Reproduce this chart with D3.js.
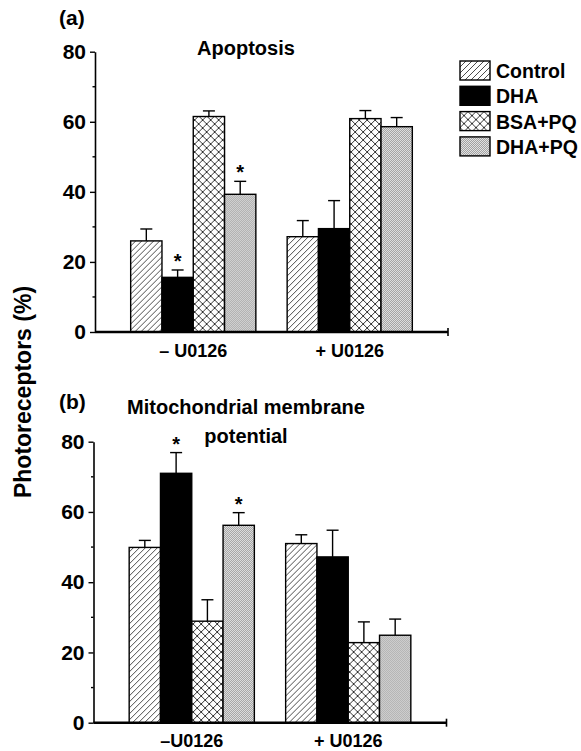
<!DOCTYPE html>
<meta charset="utf-8">
<style>
body { margin: 0; background: #fff; }
text { font-family: "Liberation Sans", Arial, sans-serif; font-weight: bold; fill: #000; }
.bar { stroke: #000; stroke-width: 1.4px; }
.err { stroke: #000; stroke-width: 1.4px; fill: none; }
</style>
<svg width="581" height="751"></svg>
<script src="https://d3js.org/d3.v7.min.js"></script>
<script>

const groups = ["\u2013 U0126", "+ U0126"];
const groupsB = ["\u2013U0126", "+ U0126"];
const series = ["Control", "DHA", "BSA+PQ", "DHA+PQ"];
const yTicks = [0, 20, 40, 60, 80];
const yMinor = [10, 30, 50, 70];

// panel (a) apoptosis, rows = groups, cols = series
const apoptosisMean = [[26.0, 15.6, 61.5, 39.3], [27.2, 29.5, 60.9, 58.6]];
const apoptosisErr  = [[3.4, 2.1, 1.6, 3.7], [4.6, 8.0, 2.3, 2.6]];
const apoptosisStar = [[false, true, false, true], [false, false, false, false]];

// panel (b) mitochondrial membrane potential
const mmpMean = [[49.9, 71.0, 28.9, 56.2], [51.0, 47.2, 22.8, 24.9]];
const mmpErr  = [[2.0, 5.9, 6.1, 3.6], [2.5, 7.6, 5.9, 4.6]];
const mmpStar = [[false, true, false, true], [false, false, false, false]];

const svg = d3.select("svg");
const defs = svg.append("defs");

// fills
const hatch = defs.append("pattern").attr("id", "p-control")
    .attr("patternUnits", "userSpaceOnUse").attr("width", 6).attr("height", 6);
hatch.append("rect").attr("width", 6).attr("height", 6).attr("fill", "#fff");
hatch.append("path").attr("d", "M0,6 L6,0 M-1,1 L1,-1 M5,7 L7,5")
    .attr("stroke", "#000").attr("stroke-width", 0.7);

const cross = defs.append("pattern").attr("id", "p-bsa")
    .attr("patternUnits", "userSpaceOnUse").attr("width", 8).attr("height", 8);
cross.append("rect").attr("width", 8).attr("height", 8).attr("fill", "#fff");
cross.append("path").attr("d", "M0,0 L8,8 M0,8 L8,0")
    .attr("stroke", "#000").attr("stroke-width", 0.8);

const dots = defs.append("pattern").attr("id", "p-dhapq")
    .attr("patternUnits", "userSpaceOnUse").attr("width", 2).attr("height", 2);
dots.append("rect").attr("width", 2).attr("height", 2).attr("fill", "#eaeaea");
dots.append("rect").attr("width", 1).attr("height", 1).attr("fill", "#999");
dots.append("rect").attr("x", 1).attr("y", 1).attr("width", 1).attr("height", 1).attr("fill", "#999");

const fills = {"Control": "url(#p-control)", "DHA": "#000", "BSA+PQ": "url(#p-bsa)", "DHA+PQ": "url(#p-dhapq)"};

function panel(opts) {
  const {x0, x1, yTop, yBot, means, errs, stars, labels} = opts;

  const x = d3.scaleBand().domain(labels).range([x0, x1])
      .paddingInner(0.2).paddingOuter(0.228);
  const xi = d3.scaleBand().domain(series).range([0, x.bandwidth()]);
  const y = d3.scaleLinear().domain([0, 80]).range([yBot, yTop]);

  const g = svg.append("g");

  labels.forEach((lab, gi) => {
    const gg = g.append("g").attr("transform", "translate(" + x(lab) + ",0)");
    series.forEach((s, si) => {
      const v = means[gi][si], e = errs[gi][si];
      const bx = xi(s), bw = xi.bandwidth(), cx = bx + bw / 2;
      gg.append("line").attr("class", "err")
          .attr("x1", cx).attr("x2", cx).attr("y1", y(v)).attr("y2", y(v + e));
      gg.append("line").attr("class", "err")
          .attr("x1", cx - 6).attr("x2", cx + 6).attr("y1", y(v + e)).attr("y2", y(v + e));
      gg.append("rect").attr("class", "bar")
          .attr("x", bx).attr("width", bw)
          .attr("y", y(v)).attr("height", y(0) - y(v))
          .attr("fill", fills[s]);
      if (stars[gi][si]) {
        gg.append("text").attr("x", cx).attr("y", y(v + e) - 2)
            .attr("text-anchor", "middle").style("font-size", "20px").text("*");
      }
    });
  });

  // y axis
  const ya = g.append("g").attr("transform", "translate(" + x0 + ",0)")
      .call(d3.axisLeft(y).tickValues(yTicks).tickSize(5).tickPadding(4).tickSizeOuter(0));
  ya.select(".domain").attr("stroke-width", 1.6);
  ya.selectAll(".tick line").attr("stroke-width", 1.4);
  ya.selectAll(".tick text").style("font-size", "21px").style("font-family", "Liberation Sans, Arial, sans-serif").style("font-weight", "bold");
  g.append("g").attr("transform", "translate(" + x0 + ",0)")
    .selectAll("line").data(yMinor).join("line")
      .attr("x1", -2.5).attr("x2", 0).attr("y1", d => y(d)).attr("y2", d => y(d))
      .attr("stroke", "#000").attr("stroke-width", 1.4);

  // x axis
  const xa = g.append("g").attr("transform", "translate(0," + yBot + ")")
      .call(d3.axisBottom(x).tickSize(0).tickPadding(12));
  xa.select(".domain").remove();
  xa.selectAll(".tick text").style("font-size", "18px").style("font-family", "Liberation Sans, Arial, sans-serif").style("font-weight", "bold");
  g.append("line").attr("x1", x0).attr("x2", x1).attr("y1", yBot).attr("y2", yBot)
      .attr("stroke", "#000").attr("stroke-width", 2.6);
  g.append("line").attr("x1", x1).attr("x2", x1).attr("y1", yBot - 4).attr("y2", yBot + 4)
      .attr("stroke", "#000").attr("stroke-width", 1.6);
  return g;
}

panel({x0: 95, x1: 448, yTop: 51.7, yBot: 332, means: apoptosisMean, errs: apoptosisErr, stars: apoptosisStar, labels: groups});
panel({x0: 93.5, x1: 446.5, yTop: 441.7, yBot: 722.7, means: mmpMean, errs: mmpErr, stars: mmpStar, labels: groupsB});

// titles and labels
svg.append("text").attr("x", 59).attr("y", 25).style("font-size", "21px").text("(a)");
svg.append("text").attr("x", 59).attr("y", 409).style("font-size", "21px").text("(b)");
svg.append("text").attr("x", 246).attr("y", 55).attr("text-anchor", "middle").style("font-size", "20px").text("Apoptosis");
svg.append("text").attr("x", 246).attr("y", 414).attr("text-anchor", "middle").style("font-size", "20px").text("Mitochondrial membrane");
svg.append("text").attr("x", 246).attr("y", 443).attr("text-anchor", "middle").style("font-size", "20px").text("potential");
svg.append("text").attr("transform", "translate(31,392) rotate(-90)")
    .attr("text-anchor", "middle").style("font-size", "23px").text("Photoreceptors (%)");

// legend
const leg = svg.append("g").attr("transform", "translate(460,61)");
series.forEach((s, i) => {
  const r = leg.append("g").attr("transform", "translate(0," + (i * 25.3) + ")");
  r.append("rect").attr("class", "bar").attr("width", 30).attr("height", 19).attr("fill", fills[s]);
  r.append("text").attr("x", 36).attr("y", 17).style("font-size", "19.5px").text(s);
});

</script>
